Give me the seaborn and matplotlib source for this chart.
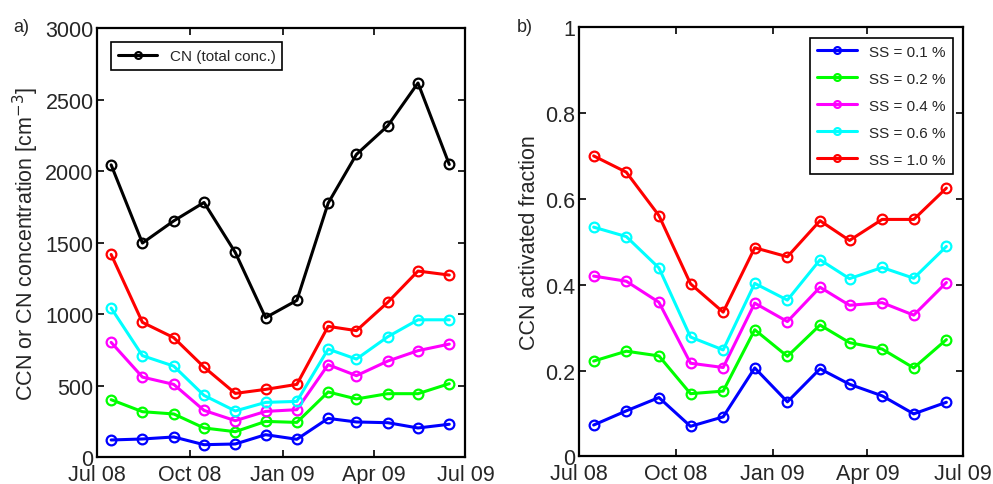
import seaborn as sns
import pandas as pd
import matplotlib.pyplot as plt

sns.set_style('ticks')
plt.rcParams['font.family'] = ['Liberation Sans', 'DejaVu Sans']
plt.rcParams['xtick.direction'] = 'in'
plt.rcParams['ytick.direction'] = 'in'
plt.rcParams['xtick.top'] = True
plt.rcParams['ytick.right'] = True

# mid-month sampling dates
months = ['2008-07-15', '2008-08-15', '2008-09-15', '2008-10-15', '2008-11-15', '2008-12-15',
          '2009-01-15', '2009-02-15', '2009-03-15', '2009-04-15', '2009-05-15', '2009-06-15']
dates = pd.to_datetime(months)

# panel a) concentrations [cm^-3]
cn = [2044, 1497, 1652, 1781, 1431, 975, 1096, 1776, 2117, 2317, 2617, 2047]
ccn_01 = [119, 126, 140, 86, 91, 156, 124, 270, 245, 240, 203, 229]
ccn_02 = [401, 317, 301, 203, 177, 249, 242, 455, 406, 443, 443, 513]
ccn_04 = [802, 559, 508, 326, 254, 319, 331, 646, 569, 671, 744, 790]
ccn_06 = [1042, 709, 636, 431, 322, 382, 389, 755, 685, 841, 960, 960]
ccn_10 = [1417, 942, 835, 629, 445, 473, 508, 914, 884, 1082, 1301, 1273]

# panel b) activated fraction
af_01 = [0.073, 0.106, 0.137, 0.070, 0.092, 0.206, 0.127, 0.204, 0.168, 0.141, 0.099, 0.126]
af_02 = [0.222, 0.245, 0.234, 0.146, 0.152, 0.295, 0.233, 0.306, 0.265, 0.250, 0.206, 0.272]
af_04 = [0.420, 0.408, 0.359, 0.217, 0.207, 0.357, 0.314, 0.394, 0.352, 0.358, 0.329, 0.405]
af_06 = [0.534, 0.512, 0.439, 0.278, 0.248, 0.403, 0.364, 0.458, 0.414, 0.440, 0.415, 0.489]
af_10 = [0.700, 0.662, 0.561, 0.402, 0.336, 0.486, 0.465, 0.549, 0.503, 0.552, 0.552, 0.625]

ss_labels = ['SS = 0.1 %', 'SS = 0.2 %', 'SS = 0.4 %', 'SS = 0.6 %', 'SS = 1.0 %']
ss_colors = ['#0000ff', '#00ff00', '#ff00ff', '#00ffff', '#ff0000']

tick_dates = pd.to_datetime(['2008-07-01', '2008-10-01', '2009-01-01', '2009-04-01', '2009-07-01'])
tick_labels = ['Jul 08', 'Oct 08', 'Jan 09', 'Apr 09', 'Jul 09']

fig = plt.figure(figsize=(9.93, 4.85), dpi=100)
ax1 = fig.add_axes([0.0977, 0.0557, 0.371, 0.884])
ax2 = fig.add_axes([0.583, 0.057, 0.387, 0.885])

line_kw = dict(marker='o', markerfacecolor='none', markersize=7, markeredgewidth=1.6,
               linewidth=2.2)

sns.lineplot(x=dates, y=cn, ax=ax1, color='k', markeredgecolor='k', label='CN (total conc.)', **line_kw)
for vals, c in zip([ccn_01, ccn_02, ccn_04, ccn_06, ccn_10], ss_colors):
    sns.lineplot(x=dates, y=vals, ax=ax1, color=c, markeredgecolor=c, legend=False, **line_kw)

for vals, c, lab in zip([af_01, af_02, af_04, af_06, af_10], ss_colors, ss_labels):
    sns.lineplot(x=dates, y=vals, ax=ax2, color=c, markeredgecolor=c, label=lab, **line_kw)

for ax in (ax1, ax2):
    ax.set_xlim(tick_dates[0], tick_dates[-1])
    ax.set_xticks(tick_dates)
    ax.set_xticklabels(tick_labels)
    ax.tick_params(labelsize=15.5, length=5, width=1.2, color='k')
    ax.tick_params(axis='x', pad=5)
    ax.tick_params(axis='y', pad=2.5)
    for s in ax.spines.values():
        s.set_linewidth(1.6)
        s.set_color('k')
        s.set_visible(True)

ax1.set_ylim(0, 3000)
ax1.set_yticks([0, 500, 1000, 1500, 2000, 2500, 3000])
ax1.set_ylabel('CCN or CN concentration [cm$^{-3}$]', fontsize=15.5, labelpad=3)
ax2.set_ylim(0, 1)
ax2.set_yticks([0, 0.2, 0.4, 0.6, 0.8, 1])
ax2.set_yticklabels(['0', '0.2', '0.4', '0.6', '0.8', '1'])
ax2.set_ylabel('CCN activated fraction', fontsize=15.5, labelpad=4)

leg_kw = dict(fontsize=11, fancybox=False, framealpha=1, edgecolor='k',
              handlelength=2.6, markerscale=0.7, borderpad=0.45, labelspacing=0.85)
l1 = ax1.legend(loc='upper left', borderaxespad=0.9, **leg_kw)
l2 = ax2.legend(loc='upper right', borderaxespad=0.7, **leg_kw)
for l in (l1, l2):
    l.get_frame().set_linewidth(1.2)

fig.text(0.013, 0.935, 'a)', fontsize=13)
fig.text(0.520, 0.935, 'b)', fontsize=13)

fig.savefig('out.png', dpi=100)
